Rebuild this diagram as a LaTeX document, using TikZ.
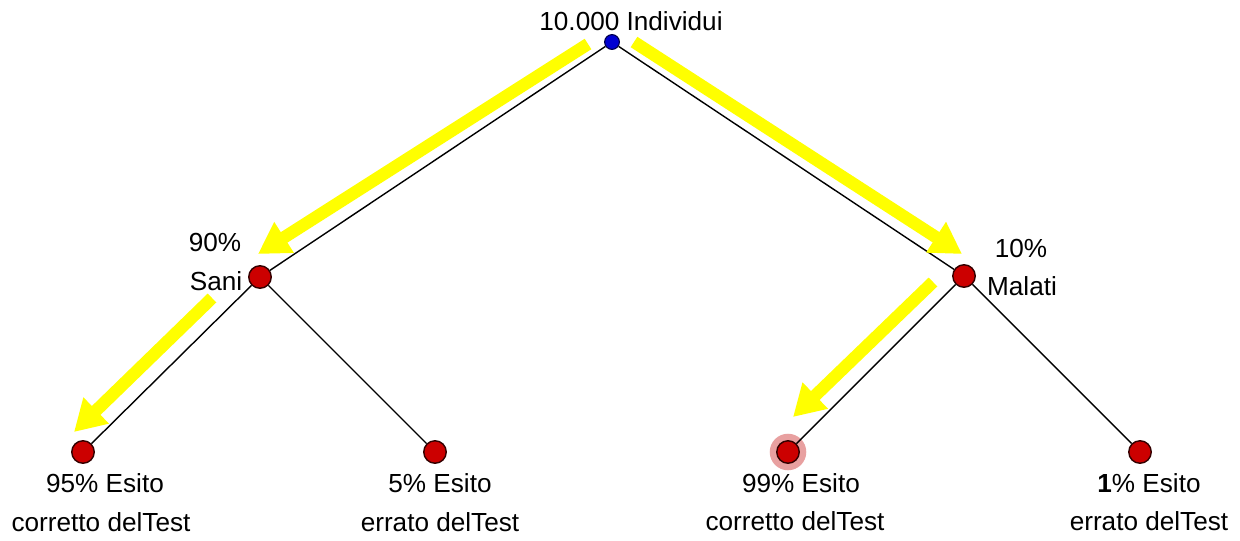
\documentclass[tikz,border=0pt]{standalone}
\usepackage{fontspec}
\setmainfont{Liberation Sans}
\usetikzlibrary{arrows.meta}
\definecolor{nodered}{RGB}{204,0,0}
\definecolor{nodeblue}{RGB}{0,0,210}
\definecolor{halo}{RGB}{232,160,160}
\definecolor{arrowyellow}{RGB}{255,255,0}
\tikzset{
  redpt/.style={circle, draw=black!80!red, line width=1pt, fill=nodered, minimum size=16pt, inner sep=0pt},
  bluept/.style={circle, draw=black!70!blue, line width=0.8pt, fill=nodeblue, minimum size=10.5pt, inner sep=0pt},
  halopt/.style={circle, fill=halo, minimum size=26pt, inner sep=0pt},
  branch/.style={draw=black, line width=1pt},
  yarrow/.style={draw=arrowyellow, line width=8.8pt, -{Triangle[length=22pt, width=24.5pt]}, arrowyellow},
  lbl/.style={anchor=base, inner sep=0pt, font=\fontsize{18.6}{21}\selectfont}
}
\begin{document}
\begin{tikzpicture}[x=0.025cm, y=-0.025cm]
\useasboundingbox (0,0) rectangle (1240,540);
% halo
\node[halopt] (halo3) at (788,452) {};
% nodes
\node[bluept] (root) at (612,42) {};
\node[redpt] (sani) at (260,277) {};
\node[redpt] (mal) at (964,276) {};
\node[redpt] (l1) at (83,452) {};
\node[redpt] (l2) at (435,452) {};
\node[redpt] (l3) at (788,452) {};
\node[redpt] (l4) at (1140,452) {};
% branches
\path[branch] (root) -- (sani);
\path[branch] (root) -- (mal);
\path[branch] (sani) -- (l1);
\path[branch] (sani) -- (l2);
\path[branch] (mal) -- (l3);
\path[branch] (mal) -- (l4);
% yellow arrows
\coordinate (a1s) at (588,44); \coordinate (a1e) at (258,254);
\coordinate (a2s) at (634,42); \coordinate (a2e) at (962,254);
\coordinate (a3s) at (212,298); \coordinate (a3e) at (74,432);
\coordinate (a4s) at (933,282); \coordinate (a4e) at (793,417);
\draw[yarrow] (a1s) -- (a1e);
\draw[yarrow] (a2s) -- (a2e);
\draw[yarrow] (a3s) -- (a3e);
\draw[yarrow] (a4s) -- (a4e);
% labels
\node[lbl] (troot) at (631,30) {10.000 Individui};
\node[lbl] (t90) at (215,251) {90\%};
\node[lbl] (tsani) at (216,290) {Sani};
\node[lbl] (t10) at (1021,257) {10\%};
\node[lbl] (tmal) at (1022,295) {Malati};
\node[lbl] (t1a) at (105,492) {95\% Esito};
\node[lbl] (t1b) at (101,531) {corretto delTest};
\node[lbl] (t2a) at (440,492) {5\% Esito};
\node[lbl] (t2b) at (440,531) {errato delTest};
\node[lbl] (t3a) at (801,492) {99\% Esito};
\node[lbl] (t3b) at (795,530) {corretto delTest};
\node[lbl] (t4a) at (1149,492) {\textbf{1}\% Esito};
\node[lbl] (t4b) at (1149,530) {errato delTest};
\end{tikzpicture}
\end{document}
